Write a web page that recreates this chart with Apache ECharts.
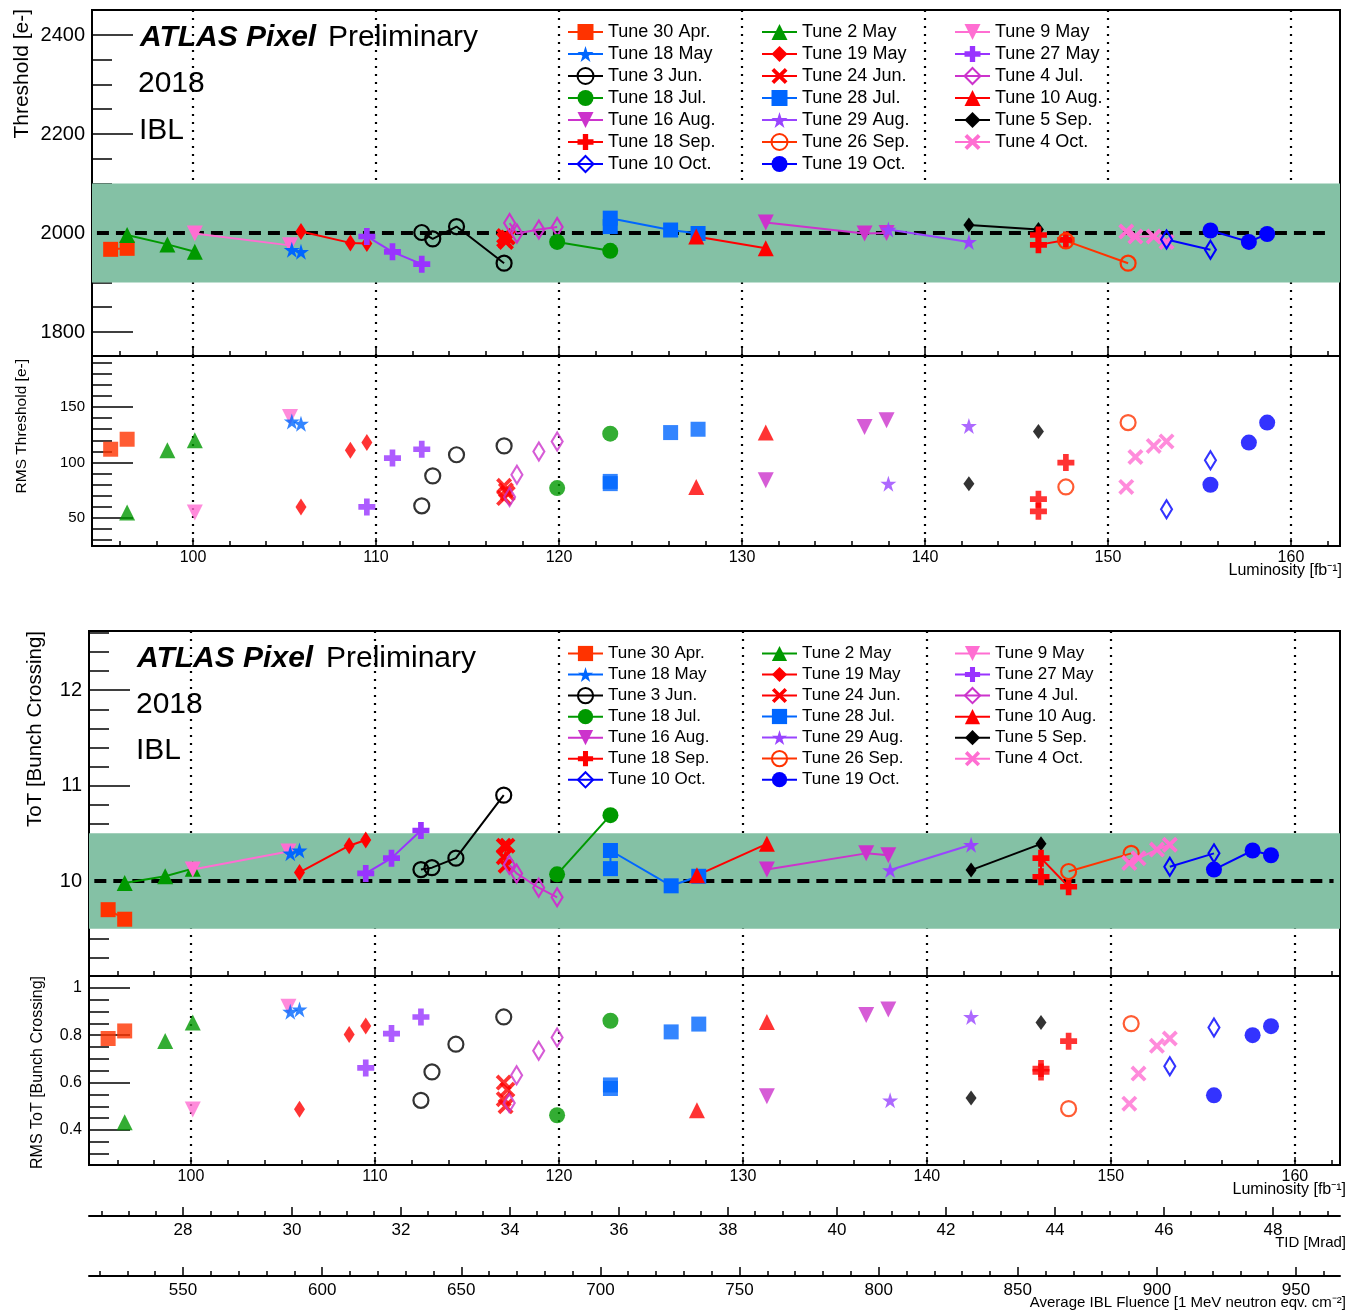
<!DOCTYPE html>
<html><head><meta charset="utf-8">
<script src="https://cdn.jsdelivr.net/npm/echarts@6/dist/echarts.min.js"></script>
<style>html,body{margin:0;padding:0;background:#fff}#c{width:1346px;height:1311px}</style>
</head><body><div id="c"></div>
<script>
// ---------------- DATA ----------------
const tunes = ['Tune 30 Apr.','Tune 2 May','Tune 9 May','Tune 18 May','Tune 19 May','Tune 27 May','Tune 3 Jun.','Tune 24 Jun.','Tune 4 Jul.','Tune 18 Jul.','Tune 28 Jul.','Tune 10 Aug.','Tune 16 Aug.','Tune 29 Aug.','Tune 5 Sep.','Tune 18 Sep.','Tune 26 Sep.','Tune 4 Oct.','Tune 10 Oct.','Tune 19 Oct.'];
const lumi = [
  [95.5,96.4],[96.4,98.6,100.1],[100.1,105.3],[105.4,105.9],[105.9,108.6,109.5],[109.5,110.9,112.5],
  [112.5,113.1,114.4,117.0],[117.0,117.2,117.0,117.1],[117.3,117.7,118.9,119.9],[119.9,122.8],
  [122.8,122.8,126.1,127.6],[127.5,131.3],[131.3,136.7,137.9],[138.0,142.4],[142.4,146.2],
  [146.2,146.2,147.7],[147.7,151.1],[151.0,151.5,152.5,153.2],[153.2,155.6],[155.6,157.7,158.7]
];
const threshold = [
  [1967,1969],[1996,1977,1962],[1999,1975],[1966,1962],[2003,1980,1979],[1993,1962,1937],
  [2001,1988,2013,1939],[1986,1991,1994,1982],[2020,1999,2007,2012],[1982,1964],
  [2013,2030,2006,1999],[1993,1969],[2021,1999,2000],[2007,1982],[2016,2007],
  [1996,1976,1986],[1984,1939],[2003,1993,1993,1982],[1987,1966],[2005,1982,1998]
];
const rmsThreshold = [
  [112,121],[55,111,120],[55,141],[137,135],[60,111,118],[60,104,112],
  [61,88,107,115],[79,72,68,75],[69,89,110,119],[77,126],
  [81,83,127,130],[78,127],[84,132,138],[81,133],[81,128],
  [56,67,100],[78,136],[78,105,115,119],[58,102],[80,118,136]
];
const tot = [
  [9.70,9.60],[9.98,10.05,10.13],[10.12,10.31],[10.29,10.32],[10.09,10.37,10.43],[10.08,10.24,10.53],
  [10.12,10.14,10.24,10.90],[10.37,10.37,10.25,10.16],[10.17,10.08,9.93,9.83],[10.07,10.69],
  [10.13,10.32,9.95,10.05],[10.06,10.39],[10.12,10.29,10.27],[10.115,10.38],[10.115,10.39],
  [10.045,10.24,9.94],[10.10,10.29],[10.19,10.24,10.33,10.38],[10.15,10.29],[10.12,10.32,10.27]
];
const rmsTot = [
  [0.786,0.818],[0.433,0.776,0.854],[0.486,0.92],[0.899,0.909],[0.487,0.803,0.839],[0.662,0.807,0.877],
  [0.525,0.645,0.762,0.877],[0.60,0.57,0.53,0.50],[0.514,0.631,0.734,0.79],[0.462,0.861],
  [0.575,0.59,0.814,0.847],[0.483,0.856],[0.542,0.885,0.909],[0.525,0.877],[0.535,0.854],
  [0.645,0.659,0.775],[0.49,0.849],[0.511,0.638,0.755,0.786],[0.669,0.833],[0.546,0.80,0.838]
];
// reference levels / bands
const thrTarget = 2000, thrBand = [1900, 2100];
const totTarget = 10, totBand = [9.5, 10.5];
const refLineX = [94.75, 162.1];
// axis ticks
const lumiMajor = [100,110,120,130,140,150,160];
const lumiMinor = [96,98,102,104,106,108,112,114,116,118,122,124,126,128,132,134,136,138,142,144,146,148,152,154,156,158,162];
const thrMajor = [1800,2000,2200,2400];
const thrMinor = [1800,1850,1900,1950,2000,2050,2100,2150,2200,2250,2300,2350,2400,2450];
const rmsThrMajor = [50,100,150];
const rmsThrMinor = [30,40,50,60,70,80,90,100,110,120,130,140,150,160,170,180,190];
const totMajor = [10,11,12];
const totMinor = [9.2,9.4,9.6,9.8,10,10.2,10.4,10.6,10.8,11,11.2,11.4,11.6,11.8,12,12.2,12.4,12.6];
const rmsTotMajor = [0.4,0.6,0.8,1];
const rmsTotMinor = [0.3,0.35,0.4,0.45,0.5,0.55,0.6,0.65,0.7,0.75,0.8,0.85,0.9,0.95,1,1.05];
const tidMajor = [28,30,32,34,36,38,40,42,44,46,48];
const tidMinor = [26.5,27,27.5,28.5,29,29.5,30.5,31,31.5,32.5,33,33.5,34.5,35,35.5,36.5,37,37.5,38.5,39,39.5,40.5,41,41.5,42.5,43,43.5,44.5,45,45.5,46.5,47,47.5,48.5,49];
const fluMajor = [550,600,650,700,750,800,850,900,950];
const fluMinor = [520,530,540,560,570,580,590,610,620,630,640,660,670,680,690,710,720,730,740,760,770,780,790,810,820,830,840,860,870,880,890,910,920,930,940,960];

// ---------------- STYLES ----------------
const FONT = 'Liberation Sans';
const P_STAR = 'path://M0,-100 L22.45,-30.9 L95.1,-30.9 L36.3,11.8 L58.8,80.9 L0,38.2 L-58.8,80.9 L-36.3,11.8 L-95.1,-30.9 L-22.45,-30.9 Z';
const P_PLUS = 'path://M-1,-3 L1,-3 L1,-1 L3,-1 L3,1 L1,1 L1,3 L-1,3 L-1,1 L-3,1 L-3,-1 L-1,-1 Z';
const P_X = 'path://M-3,-2 L-2,-3 L0,-1 L2,-3 L3,-2 L1,0 L3,2 L2,3 L0,1 L-2,3 L-3,2 L-1,0 Z';
const P_DOWN = 'path://M-1,-1 L1,-1 L0,1 Z';
const styles = [
  {c:'#ff3300', s:'rect', z:15},
  {c:'#009900', s:'triangle', z:16},
  {c:'#ff6ed2', s:P_DOWN, z:16},
  {c:'#0066ff', s:P_STAR, z:16},
  {c:'#ff0000', s:'diamond', z:[11,17]},
  {c:'#9933ff', s:P_PLUS, z:17},
  {c:'#000000', s:'circle', z:15, open:true},
  {c:'#ff0000', s:P_X, z:16},
  {c:'#cc33cc', s:'diamond', z:[11,18], open:true},
  {c:'#009900', s:'circle', z:16},
  {c:'#0066ff', s:'rect', z:15},
  {c:'#ff0000', s:'triangle', z:16},
  {c:'#cc33cc', s:P_DOWN, z:16},
  {c:'#9944ff', s:P_STAR, z:16},
  {c:'#000000', s:'diamond', z:[11,15]},
  {c:'#ff0000', s:P_PLUS, z:17},
  {c:'#ff3300', s:'circle', z:15, open:true},
  {c:'#ff6ed2', s:P_X, z:16},
  {c:'#0000ff', s:'diamond', z:[11,18], open:true},
  {c:'#0000ff', s:'circle', z:16}
];
function itemStyleOf(st){
  return st.open ? {color:'rgba(255,255,255,0)', borderColor:st.c, borderWidth:2.2} : {color:st.c, borderWidth:0};
}
const plain = v => String(Math.round(v*1000)/1000);

// ---------------- AXES ----------------
const grids = [
  {left:92, top:10, width:1248, height:346},
  {left:92, top:356, width:1248, height:190},
  {left:89, top:631, width:1251, height:345},
  {left:89, top:976, width:1251, height:189},
  {left:89, top:1215, width:1251, height:1},
  {left:89, top:1275, width:1251, height:1}
].map((g,i)=>Object.assign({show:i<4, borderColor:'#000', borderWidth:2, backgroundColor:'rgba(0,0,0,0)'}, g));

const xRanges = [[94.48,162.68],[94.48,162.68],[94.46,162.45],[94.46,162.45]];
const xAxes = [], yAxes = [];
function mainX(gi, min, max, major, showLabel, splitLine, fontSize, majorLen){
  return {type:'value', gridIndex:gi, min, max, position:'bottom',
    axisLine:{show:true, onZero:false, lineStyle:{color:'#000', width:2}},
    axisTick:{show:true, inside:true, length:majorLen, customValues:major, lineStyle:{color:'#000', width:1.5}},
    axisLabel:{show:showLabel, customValues:major, formatter:plain, color:'#000', fontFamily:FONT, fontSize, margin:4},
    splitLine:{show:splitLine, lineStyle:{color:'#000', width:2.2, type:[2,6]}},
    minorTick:{show:false}};
}
function minorAxis(kind, gi, min, max, minor, len){
  return {type:'value', gridIndex:gi, min, max, position: kind==='x'?'bottom':'left',
    axisLine:{show:false, onZero:false},
    axisTick:{show:true, inside:true, length:len, customValues:minor, lineStyle:{color:'#000', width:1.5}},
    axisLabel:{show:false}, splitLine:{show:false}};
}
for(let gi=0; gi<4; gi++){
  xAxes.push(mainX(gi, xRanges[gi][0], xRanges[gi][1], lumiMajor, gi===1||gi===3, true, 16, 8));
}
for(let gi=0; gi<4; gi++){
  xAxes.push(minorAxis('x', gi, xRanges[gi][0], xRanges[gi][1], lumiMinor, 5));
}
// TID and fluence axes (x axis index 8..11)
xAxes.push(mainX(4, 26.275, 49.23, tidMajor, true, false, 17, 9));
xAxes.push(minorAxis('x', 4, 26.275, 49.23, tidMinor, 5));
xAxes.push(mainX(5, 516.2, 965.8, fluMajor, true, false, 17, 9));
xAxes.push(minorAxis('x', 5, 516.2, 965.8, fluMinor, 5));
xAxes[8].axisLabel.margin = 6; xAxes[10].axisLabel.margin = 6;

const yRanges = [[1751.5,2450.5],[24.8,196],[9.005,12.62],[0.252,1.05]];
const yMajor = [thrMajor, rmsThrMajor, totMajor, rmsTotMajor];
const yMinor = [thrMinor, rmsThrMinor, totMinor, rmsTotMinor];
const yFont = [20, 15, 20, 16];
for(let gi=0; gi<4; gi++){
  yAxes.push({type:'value', gridIndex:gi, min:yRanges[gi][0], max:yRanges[gi][1], position:'left',
    axisLine:{show:true, onZero:false, lineStyle:{color:'#000', width:2}},
    axisTick:{show:true, inside:true, length:41, customValues:yMajor[gi], lineStyle:{color:'#000', width:1.5}},
    axisLabel:{customValues:yMajor[gi], formatter:plain, color:'#000', fontFamily:FONT, fontSize:yFont[gi], margin:7},
    splitLine:{show:false}});
}
for(let gi=0; gi<4; gi++){
  yAxes.push(minorAxis('y', gi, yRanges[gi][0], yRanges[gi][1], yMinor[gi], 20));
}
yAxes.push({type:'value', gridIndex:4, show:false, min:0, max:1});
yAxes.push({type:'value', gridIndex:5, show:false, min:0, max:1});

// ---------------- SERIES ----------------
const series = [];
function refSeries(xi, yi, target, band){
  return {type:'line', xAxisIndex:xi, yAxisIndex:yi, silent:true, symbol:'none', z:2,
    data: refLineX.map(x=>[x, target]),
    lineStyle:{color:'#000', width:4, type:[12,7]},
    markArea:{silent:true, z:1, itemStyle:{color:'#84c1a5', opacity:1}, data:[[{yAxis:band[0]},{yAxis:band[1]}]]}};
}
series.push(refSeries(0,0,thrTarget,thrBand));
series.push(refSeries(2,2,totTarget,totBand));

function tuneSeries(i, xi, yi, vals, withLine){
  const st = styles[i];
  return {name:tunes[i], type: withLine?'line':'scatter', xAxisIndex:xi, yAxisIndex:yi,
    data: lumi[i].map((x,k)=>[x, vals[i][k]]),
    symbol: st.s, symbolSize: st.z, z:3,
    itemStyle: itemStyleOf(st),
    lineStyle: {color: st.c, width:2}};
}
tunes.forEach((n,i)=>series.push(tuneSeries(i,0,0,threshold,true)));
tunes.forEach((n,i)=>series.push(tuneSeries(i,2,2,tot,true)));
tunes.forEach((n,i)=>series.push(tuneSeries(i,1,1,rmsThreshold,false)));
tunes.forEach((n,i)=>series.push(tuneSeries(i,3,3,rmsTot,false)));

// ---------------- LEGENDS ----------------
const cols = [[0,3,6,9,12,15,18],[1,4,7,10,13,16,19],[2,5,8,11,14,17]];
const legends = [];
const legendLefts = [567, 761, 954];
cols.forEach((col,ci)=>{
  legends.push({orient:'vertical', left:legendLefts[ci], top:23, padding:0, itemWidth:35, itemHeight:20, itemGap:4,
    selectedMode:false, data: col.map(k=>tunes[k]),
    textStyle:{fontFamily:FONT, fontSize:18, color:'#000'}});
  legends.push({orient:'vertical', left:legendLefts[ci], top:645, padding:0, itemWidth:35, itemHeight:19, itemGap:4,
    selectedMode:false, data: col.map(k=>tunes[k]),
    textStyle:{fontFamily:FONT, fontSize:17, color:'#000'}});
});

// ---------------- TEXT ----------------
function txt(text, x, y, size, opt){
  return Object.assign({type:'text', x, y, silent:true, z:50,
    style:Object.assign({text, fontFamily:FONT, fontSize:size, fill:'#000', align:'left', verticalAlign:'middle'}, opt||{})});
}
function vtxt(text, x, y, size){
  return {type:'text', x, y, rotation:Math.PI/2, silent:true, z:50,
    style:{text, fontFamily:FONT, fontSize:size, fill:'#000', align:'right', verticalAlign:'middle'}};
}
const graphics = [
  txt('ATLAS Pixel', 140, 38, 30, {fontWeight:'bold', fontStyle:'italic'}),
  txt('Preliminary', 328, 38, 30),
  txt('2018', 138, 84, 30),
  txt('IBL', 139, 131, 30),
  txt('ATLAS Pixel', 137, 659, 30, {fontWeight:'bold', fontStyle:'italic'}),
  txt('Preliminary', 326, 659, 30),
  txt('2018', 136, 705, 30),
  txt('IBL', 136, 751, 30),
  vtxt('Threshold [e-]', 22, 9, 21),
  vtxt('RMS Threshold [e-]', 22, 359, 15.5),
  vtxt('ToT [Bunch Crossing]', 35, 631, 20.5),
  vtxt('RMS ToT [Bunch Crossing]', 38, 976, 16),
  txt('Luminosity [fb\u207B\u00B9]', 1342, 571, 16, {align:'right'}),
  txt('Luminosity [fb\u207B\u00B9]', 1346, 1190, 16, {align:'right'}),
  txt('TID [Mrad]', 1346, 1243, 15, {align:'right'}),
  txt('Average IBL Fluence [1 MeV neutron eqv. cm\u207B\u00B2]', 1346, 1303, 15, {align:'right'})
];

const chart = echarts.init(document.getElementById('c'), null, {renderer:'canvas'});
chart.setOption({
  animation:false,
  backgroundColor:'#fff',
  grid: grids, xAxis: xAxes, yAxis: yAxes,
  legend: legends, series, graphic: graphics
});
</script></body></html>
